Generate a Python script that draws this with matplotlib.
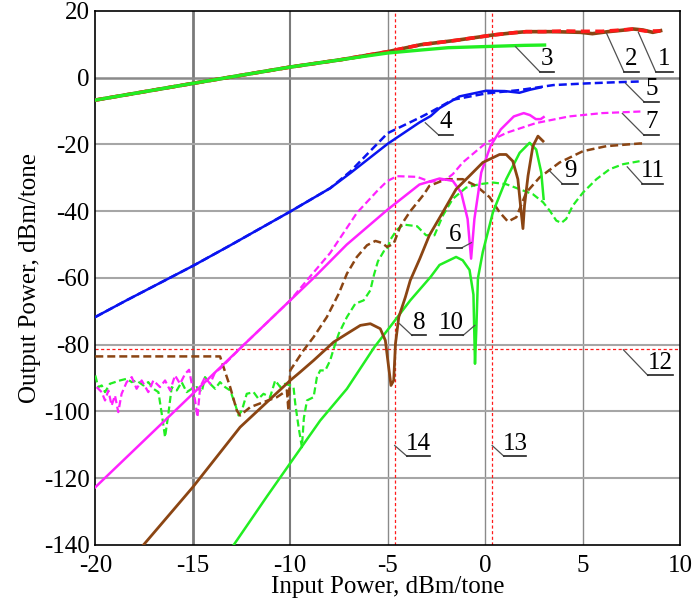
import numpy as np
import matplotlib.pyplot as plt

plt.rcParams['font.family'] = ['Liberation Serif', 'DejaVu Serif']
plt.rcParams['axes.unicode_minus'] = False

# ---- curve data ----
# 1: red dashed, 2: brown solid, 3: green solid (fundamental)
x1 = [-20, -15, -10, -7.4, -5, -3.3, -1.5, 0.4, 1.5, 2.1, 3.0, 4.0, 5.0, 6.0, 7.0, 7.6, 8.2, 9.0]
y1 = [-6.7, -1.7, 3.2, 5.4, 7.8, 9.9, 11.2, 12.8, 13.5, 13.8, 13.8, 14.0, 13.9, 13.9, 14.3, 14.6, 14.0, 14.0]
x2 = [-20, -15, -10, -7.4, -5, -3.3, -1.5, 0.4, 1.5, 2.1, 3.5, 4.9, 5.5, 6.3, 7.0, 7.6, 8.1, 8.6, 9.0]
y2 = [-6.7, -1.7, 3.2, 5.4, 7.8, 9.9, 11.2, 12.8, 13.5, 13.8, 13.8, 13.6, 13.2, 13.8, 14.2, 14.6, 14.3, 13.6, 14.1]
x3 = [-20, -15, -10, -7.4, -5, -3.3, -1.9, 0.9, 2.0, 3.05]
y3 = [-6.7, -1.7, 3.2, 5.4, 7.4, 8.3, 9.0, 9.5, 9.7, 9.8]

# 4: blue solid, 5: blue dashed
x4 = [-20, -18.4, -15, -13.07, -10, -7.95, -6.9, -5, -3.37, -2.8, -2.34, -1.32, 0.05, 1.0, 1.76, 2.3, 2.85]
y4 = [-71.7, -66.7, -56.4, -50.2, -40.1, -33.1, -28.5, -19.8, -13.4, -11.5, -9.1, -5.6, -3.9, -4.0, -4.5, -3.6, -2.9]
x5 = [-20, -18.4, -15, -13.07, -10, -7.95, -6.9, -5, -3.37, -2.8, -1.66, 0.05, 1.76, 3.5, 5.2, 6.5, 8.06]
y5 = [-71.7, -66.7, -56.4, -50.2, -40.1, -33.1, -28.0, -16.6, -12.0, -10.3, -6.6, -4.7, -3.7, -2.2, -1.7, -1.4, -1.1]

# 6: magenta solid, 7: magenta dashed
x6 = [-20, -17.5, -15, -12.5, -10, -8.8, -7.1, -5, -3.37, -2.34, -1.66, -1.23, -0.9, -0.72, -0.55,
      -0.2, 0.27, 0.8, 1.47, 1.98, 2.3, 2.6, 2.85, 3.0]
y6 = [-122.7, -108.7, -94.7, -80.7, -66.7, -60.0, -50.0, -39.5, -32.0, -30.2, -30.9, -34.4, -42.3, -54.2, -42.3,
      -28.4, -20.5, -15.5, -11.6, -10.6, -11.2, -12.4, -12.4, -11.8]
x7 = [-19.93, -19.67, -19.5, -19.33, -19.16, -18.99, -18.82, -18.65, -18.39, -18.13, -17.88, -17.62, -17.28,
      -17.02, -16.68, -16.42, -16.16, -15.91, -15.65, -15.39, -15.19, -15.05, -14.88, -14.76, -14.62, -14.37,
      -14.11, -13.85, -13.6, -12.5, -10, -8.97, -7.95, -6.58, -5.55, -5.03, -4.52, -3.49, -2.8, -2.0, -1.66,
      -1.15, -0.46, 0.05, 1.1, 2.6, 4.3, 6.0, 8.06]
y7 = [-92.7, -94.2, -96.7, -93.7, -98.2, -95.2, -100.2, -94.7, -91.2, -89.7, -93.2, -90.7, -94.2,
      -90.7, -92.7, -90.7, -93.7, -89.2, -91.7, -88.7, -87.5, -91.7, -96.7, -101.7, -92.7, -89.7,
      -91.7, -88.2, -87.2, -80.7, -66.7, -59.5, -52.5, -40.5, -34.0, -31.0, -29.5, -29.7, -31.2, -30.4, -28.9,
      -25.4, -22.0, -19.5, -16.5, -13.6, -11.6, -10.6, -10.1]

# 8: brown solid, 9: brown dashed
x8 = [-17.53, -15, -12.57, -10, -9.49, -8.8, -7.77, -7.09, -6.4, -5.89, -5.38, -5.12, -4.95, -4.83, -4.69,
      -4.6, -4.43, -4.09, -3.84, -3.35, -2.86, -2.17, -1.49, -0.8, -0.12, 0.74, 1.08, 1.42, 1.68, 1.85, 1.94,
      2.02, 2.2, 2.45, 2.71, 2.97]
y8 = [-140, -122.7, -104.7, -90.7, -88.2, -84.7, -79.2, -76.7, -74.2, -73.7, -75.2, -78.7, -86.7, -92.2, -90.7,
      -79.7, -71.7, -65.7, -60.7, -54.2, -47.2, -40.3, -33.4, -29.4, -25.4, -23.0, -23.0, -25.0, -30.4, -40.3, -45.2,
      -38.3, -29.4, -20.5, -17.5, -19.0]
x9 = [-20, -13.6, -13.42, -13.08, -12.74, -12.57, -12.05, -11.37, -10.68, -10.17, -10.09, -10.0, -9.32, -8.8,
      -8.12, -7.51, -7.09, -6.58, -6.06, -5.63, -5.29, -5.03, -4.69, -4.35, -3.84, -3.15, -2.86, -2.0, -1.15,
      -0.46, 0.23, 0.74, 1.17, 1.6, 2.11, 2.79, 3.82, 5.02, 6.22, 7.93, 8.06]
y9 = [-83.5, -83.5, -86.7, -92.7, -99.7, -101.2, -98.7, -97.2, -95.7, -93.7, -99.7, -87.7, -81.7, -77.7,
      -71.7, -64.7, -58.7, -53.7, -50.2, -48.9, -49.5, -50.7, -49.7, -44.5, -40.0, -35.0, -32.4, -30.4, -30.4,
      -32.4, -35.8, -40.3, -43.1, -41.8, -34.4, -29.9, -25.4, -22.0, -20.5, -19.7, -19.7]

# 10: green solid, 11: green dashed
x10 = [-12.9, -11.2, -10, -8.46, -7.09, -5.68, -4.86, -3.84, -2.8, -2.34, -1.49, -1.15, -0.8, -0.6, -0.52,
       -0.45, -0.37, -0.12, 0.4, 1.08, 1.77, 2.28, 2.62, 2.88, 3.0]
y10 = [-140, -125.5, -115.5, -102.7, -93.2, -80.7, -74.5, -66.7, -59.7, -56.1, -53.7, -54.7, -57.6, -65.0, -85.7,
       -75.0, -60.1, -52.2, -40.3, -30.4, -22.5, -19.5, -21.5, -28.4, -36.3]
x11 = [-20, -19.85, -19.67, -19.5, -19.25, -18.99, -18.73, -18.39, -18.13, -17.88, -17.53, -17.28, -17.02,
       -16.76, -16.59, -16.42, -16.25, -16.08, -15.82, -15.57, -15.31, -15.05, -14.79, -14.54, -14.37, -14.11,
       -13.85, -13.6, -13.34, -13.08, -12.83, -12.65, -12.48, -12.23, -11.88, -11.63, -11.37, -11.03, -10.77,
       -10.51, -10.26, -10.0, -9.83, -9.74, -9.57, -9.4, -9.3, -9.14, -8.8, -8.63, -8.46, -8.2, -7.95, -7.77,
       -7.51, -7.09, -6.66, -6.23, -5.89, -5.7, -5.5, -5.2, -5.03, -4.86, -4.52, -4.18, -3.49, -3.03, -2.6,
       -2.17, -1.66, -0.97, -0.29, 0.4, 1.08, 1.77, 2.45, 2.97, 3.31, 3.65, 3.91, 4.16, 4.5, 5.02, 5.71, 6.39,
       7.08, 7.93, 8.06]
y11 = [-89.2, -92.7, -92.2, -94.2, -91.7, -91.2, -90.7, -90.2, -91.2, -90.7, -92.2, -91.2, -93.2,
       -94.2, -100.7, -107.7, -100.7, -92.7, -93.7, -91.2, -94.2, -93.2, -92.7, -94.2, -89.7, -91.7,
       -93.2, -91.2, -92.7, -93.7, -97.7, -101.2, -99.7, -94.7, -94.2, -96.2, -94.7, -95.7, -90.7,
       -92.7, -91.7, -92.2, -92.7, -97.7, -104.7, -110.7, -102.0, -96.7, -95.7, -89.7, -87.7, -87.7, -84.7, -81.2,
       -76.7, -71.7, -67.7, -66.7, -63.7, -59.0, -55.0, -52.0, -51.5, -48.5, -45.5, -44.0, -44.5, -47.2, -47.2,
       -41.3, -36.3, -32.9, -31.9, -31.4, -31.9, -33.4, -34.9, -37.3, -39.8, -42.8, -43.5, -42.3, -38.3, -34.4, -30.4, -27.4,
       -25.9, -25.0, -24.8]

# 12-14: red dotted reference lines
y12 = -81.4
x13 = 0.36
x14 = -4.64

# callout labels: (text, point on curve, elbow, end of underline)
label_text = ["1", "2", "3", "4", "5", "7", "9", "11", "6", "8", "10", "12", "14", "13"]
label_px = [7.86, 6.23, 1.56, -3.07, 7.21, 7.04, 3.27, 7.29, -0.70, -4.39, -0.53, 7.09, -4.64, 0.36]
label_py = [13.6, 13.3, 9.3, -13.5, -1.7, -10.7, -27.7, -26.7, -49.4, -73.7, -74.2, -81.5, -110.2, -110.2]
label_ex = [8.75, 7.12, 2.80, -2.38, 8.15, 8.15, 3.95, 8.06, -1.18, -3.75, -1.13, 8.35, -4.01, 0.96]
label_ey = [1.8, 1.8, 1.8, -17.2, -7.2, -17.2, -31.7, -31.7, -50.9, -77.2, -77.2, -89.2, -113.4, -113.4]
label_ux = [9.62, 7.87, 3.51, -1.63, 8.9, 8.9, 4.76, 9.14, -1.95, -3.01, -2.33, 9.64, -2.81, 2.11]

red = "#ff1a1a"
brown = "#8b4513"
green = "#22ee22"
blue = "#0a14f0"
magenta = "#ff22ff"
dash = (0, (3.2, 1.6))

fig = plt.figure(figsize=(6.97, 6.0), dpi=100)
ax = fig.add_axes([0.1367, 0.0917, 0.839, 0.89])

# grid
for gx in [-15, -10]:
    ax.axvline(gx, color="#7a7a7a", lw=2.0 if gx == -15 else 1.5, zorder=1)
for gx in [-5, 0, 5]:
    ax.axvline(gx, color="#8a8a8a", lw=1.0, zorder=1)
for gy in [-20, -40, -60, -80, -100, -120]:
    ax.axhline(gy, color="#a6a6a6", lw=1.5, zorder=1)
ax.axhline(0, color="#8a8a8a", lw=1.8, zorder=1)

# red dotted reference lines
ax.axhline(y12, color=red, lw=0.9, ls=(0, (2.5, 2)), zorder=2)
ax.axvline(x13, color=red, lw=0.9, ls=(0, (2.5, 2)), zorder=2)
ax.axvline(x14, color=red, lw=0.9, ls=(0, (2.5, 2)), zorder=2)

# curves
ax.plot(x11, y11, color=green, lw=1.6, ls=dash, zorder=3)
ax.plot(x7, y7, color=magenta, lw=1.6, ls=dash, zorder=3)
ax.plot(x9, y9, color=brown, lw=1.8, ls=dash, zorder=3)
ax.plot(x10, y10, color=green, lw=1.8, zorder=4)
ax.plot(x6, y6, color=magenta, lw=1.8, zorder=4)
ax.plot(x8, y8, color=brown, lw=2.0, zorder=4)
ax.plot(x5, y5, color=blue, lw=1.8, ls=dash, zorder=4)
ax.plot(x4, y4, color=blue, lw=1.8, zorder=5)
ax.plot(x2, y2, color=brown, lw=2.6, zorder=5)
ax.plot(x1, y1, color=red, lw=2.6, ls=(0, (2.5, 1.5)), zorder=6)
ax.plot(x3, y3, color=green, lw=2.4, zorder=7)

# callouts
for t, px, py, ex, ey, ux in zip(label_text, label_px, label_py, label_ex, label_ey, label_ux):
    ax.plot([px, ex], [py, ey], color="#505050", lw=0.9, zorder=8)
    ax.plot([ex, ux], [ey, ey], color="#202020", lw=1.2, zorder=8)
    ax.text((ex + ux) / 2, ey + 0.5, t, ha="center", va="bottom", fontsize=18, zorder=9)

ax.set_xlim(-20, 10)
ax.set_ylim(-140, 20)
ax.set_xticks(np.arange(-20, 11, 5))
ax.set_yticks(np.arange(-140, 21, 20))
ax.tick_params(length=0, labelsize=18)
ax.tick_params(axis="y", pad=4)
ax.tick_params(axis="x", pad=7.5)
for s in ax.spines.values():
    s.set_linewidth(1.2)
ax.set_xlabel("Input Power, dBm/tone", fontsize=18, labelpad=-1)
ax.set_ylabel("Output Power, dBm/tone", fontsize=18, labelpad=2)

fig.savefig("out.png", dpi=100)
